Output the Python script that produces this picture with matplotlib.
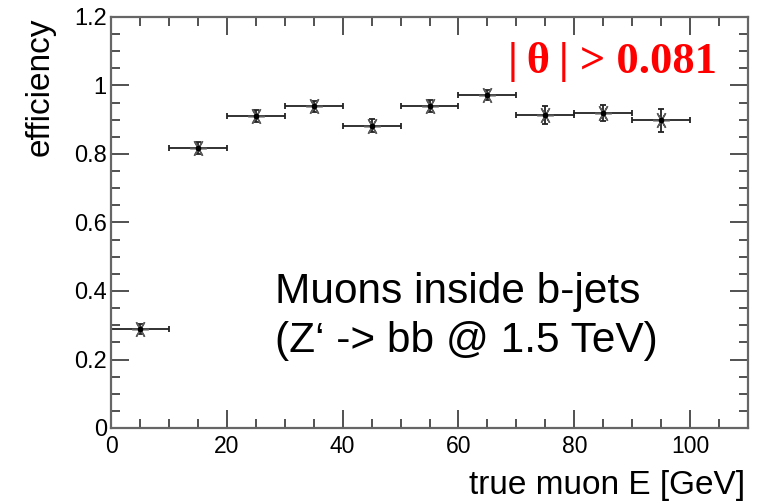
import matplotlib
matplotlib.use("Agg")
import matplotlib.pyplot as plt
from matplotlib.ticker import MultipleLocator, FuncFormatter

# bin centres / half widths in GeV and measured efficiencies
energy = [5, 15, 25, 35, 45, 55, 65, 75, 85, 95]
energy_halfwidth = [5, 5, 5, 5, 5, 5, 5, 5, 5, 5]
efficiency = [0.289, 0.817, 0.911, 0.940, 0.882, 0.940, 0.973, 0.914, 0.919, 0.898]
efficiency_err = [0.016, 0.017, 0.017, 0.016, 0.019, 0.017, 0.015, 0.025, 0.024, 0.034]

W, H = 763, 503
fig = plt.figure(figsize=(W / 100, H / 100), dpi=100)
ax = fig.add_axes([111 / W, 1 - 428 / H, (748 - 111) / W, (428 - 17) / H])

ax.errorbar(energy, efficiency, xerr=energy_halfwidth, yerr=efficiency_err,
            fmt="none", ecolor="#222222", elinewidth=1.3, capsize=2, capthick=1.3)
ax.plot(energy, efficiency, ls="none", marker=(6, 2, 90), ms=12, mew=1.1,
        color="#5a5a5a")
ax.plot(energy, efficiency, ls="none", marker="o", ms=3, color="black")

ax.set_xlim(0, 110)
ax.set_ylim(0, 1.2)
ax.xaxis.set_major_locator(MultipleLocator(20))
ax.xaxis.set_minor_locator(MultipleLocator(5))
ax.yaxis.set_major_locator(MultipleLocator(0.2))
ax.yaxis.set_minor_locator(MultipleLocator(0.05))
ax.yaxis.set_major_formatter(FuncFormatter(lambda v, p: f"{v:g}"))
ax.xaxis.set_major_formatter(FuncFormatter(lambda v, p: f"{v:g}"))

for s in ax.spines.values():
    s.set_color("#666666")
    s.set_linewidth(1.6)
ax.tick_params(which="both", direction="in", top=True, right=True,
               color="#333333", width=1.2)
ax.tick_params(which="major", length=13)
ax.tick_params(which="minor", length=6.5)
ax.tick_params(axis="y", labelsize=17, pad=3)
ax.tick_params(axis="x", labelsize=16.5, pad=5)
for lab in ax.get_xticklabels() + ax.get_yticklabels():
    lab.set_family("Liberation Sans")

fig.text(745 / W, 1 - 494 / H, "true muon E [GeV]", ha="right", va="baseline",
         fontsize=24, family="Liberation Sans")
fig.text(40 / W, 1 - 17 / H, "efficiency", rotation=90, ha="center", va="top",
         fontsize=24, family="Liberation Sans")

fig.text(717 / W, 1 - 72.5 / H, "|\u2009θ\u2009| > 0.081", ha="right", va="baseline",
         fontsize=32, fontweight="bold", color="red", family="Liberation Serif")
fig.text(275 / W, 1 - 352 / H, "Muons inside b-jets\n(Z‘ -> bb @ 1.5 TeV)",
         ha="left", va="baseline", fontsize=30.5, family="Liberation Sans",
         linespacing=1.3)

fig.savefig("out.png", dpi=100, facecolor="white")
